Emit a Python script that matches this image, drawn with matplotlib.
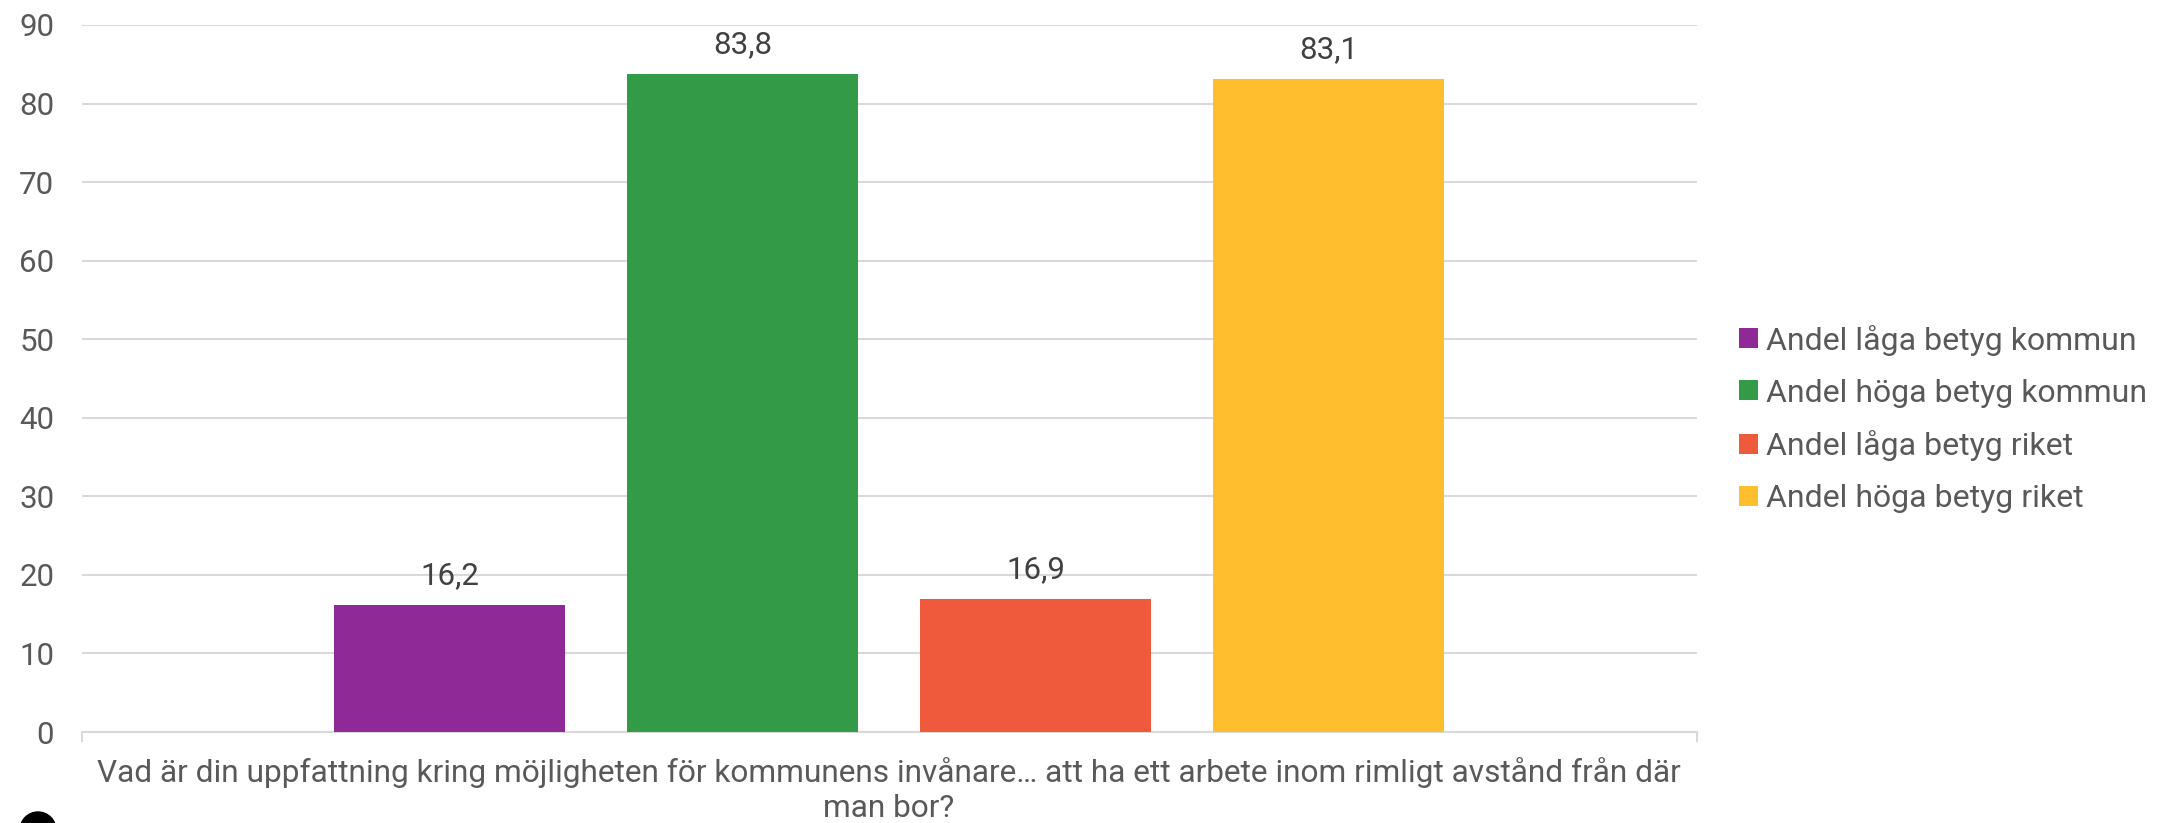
import matplotlib.pyplot as plt
from matplotlib.patches import Patch, Circle
from matplotlib.transforms import IdentityTransform

plt.rcParams['font.family'] = ['Roboto', 'DejaVu Sans']

series = ['Andel låga betyg kommun', 'Andel höga betyg kommun',
          'Andel låga betyg riket', 'Andel höga betyg riket']
values = [16.2, 83.8, 16.9, 83.1]
labels = ['16,2', '83,8', '16,9', '83,1']
colors = ['#8F2998', '#339B47', '#F05A3C', '#FFBE2E']
category = ('Vad är din uppfattning kring möjligheten för kommunens invånare… '
            'att ha ett arbete inom rimligt avstånd från där\nman bor?')
yticks = [0, 10, 20, 30, 40, 50, 60, 70, 80, 90]

W, H = 2169, 823
fig = plt.figure(figsize=(W / 100, H / 100), dpi=100)
ax = fig.add_axes([82 / W, (H - 732) / H, (1697 - 82) / W, (732 - 25) / H])

x = list(range(len(values)))
ax.bar(x, values, width=0.788, color=colors, zorder=3)
for xi, v, lab in zip(x, values, labels):
    ax.annotate(lab, (xi, v), xytext=(0, 21), textcoords='offset points',
                ha='center', va='center', fontsize=22.5, color='#404040')

ax.set_xlim(-1.254, 4.258)
ax.set_ylim(0, 90)
ax.set_yticks(yticks)
ax.yaxis.grid(True, color='#d9d9d9', linewidth=1.5)
ax.set_axisbelow(True)
for s in ['top', 'right', 'left']:
    ax.spines[s].set_visible(False)
ax.spines['bottom'].set_color('#d9d9d9')
ax.spines['bottom'].set_linewidth(1.5)
ax.tick_params(axis='y', length=0, pad=20, labelsize=22.5, labelcolor='#595959')

ax.set_xticks([1.5])
ax.set_xticklabels([category], linespacing=1.25)
ax.set_xticks([-1.254, 4.258], minor=True)
ax.tick_params(axis='x', which='major', length=0, pad=18, labelsize=22.8,
               labelcolor='#595959')
ax.tick_params(axis='x', which='minor', length=7.5, width=1.5, color='#d9d9d9')

handles = [Patch(facecolor=c, edgecolor='none') for c in colors]
leg = fig.legend(handles, series, loc='center left',
                 bbox_to_anchor=(1739 / W, 1 - 419 / H), frameon=False,
                 fontsize=23, handlelength=0.58, handleheight=0.58,
                 handletextpad=0.27, labelspacing=0.72, borderpad=0,
                 borderaxespad=0)
for t in leg.get_texts():
    t.set_color('#595959')

fig.add_artist(Circle((38, H - 830), 18, color='black',
                      transform=IdentityTransform()))

fig.savefig('out.png', dpi=100)
